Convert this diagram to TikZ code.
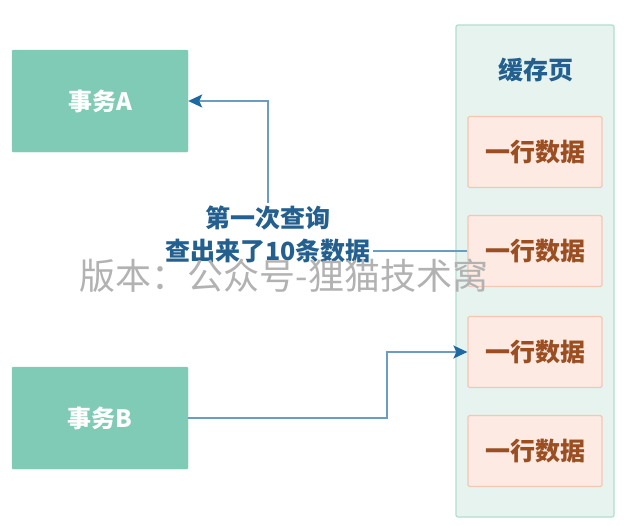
\documentclass[tikz,border=0pt]{standalone}
\usepackage{fontspec}
\setmainfont{Noto Sans CJK SC}
\usepackage{tikz}
\usetikzlibrary{arrows.meta, positioning}
\definecolor{txgreen}{HTML}{80CBB5}
\definecolor{pagefill}{HTML}{E7F3EF}
\definecolor{pageline}{HTML}{B3DECF}
\definecolor{rowfill}{HTML}{FCEAE3}
\definecolor{rowline}{HTML}{F4C7B4}
\definecolor{rowtext}{HTML}{9A4E22}
\definecolor{linkblue}{HTML}{6B9DC2}
\definecolor{headblue}{HTML}{1F69A3}
\definecolor{labelblue}{HTML}{23608F}
\tikzset{
  txbox/.style={draw=txgreen!90, fill=txgreen, rounded corners=1pt, minimum width=176pt, minimum height=102pt, text=white, font=\fontsize{24}{28}\selectfont\bfseries},
  rowbox/.style={draw=rowline, line width=1.2pt, fill=rowfill, rounded corners=1.5pt, minimum width=134pt, minimum height=71pt, text=rowtext, font=\fontsize{25}{28}\selectfont\bfseries},
  link/.style={draw=linkblue, line width=1.8pt, -{Stealth[length=14pt, width=13pt, inset=3pt, color=headblue]}},
}
\begin{document}
\begin{tikzpicture}[x=1pt, y=-1pt]
	\useasboundingbox[fill=white] (0, 0) rectangle (637, 525);
	% cache page
	\draw[pageline, fill=pagefill, line width=1.2pt, rounded corners=2pt] (456, 25) rectangle (614, 517);
	\node[text=labelblue, font=\fontsize{25}{28}\selectfont\bfseries] (title) at (536, 70) {缓存页};
	\node[rowbox] (r1) at (535, 152) {一行数据};
	\node[rowbox] (r2) at (535, 251) {一行数据};
	\node[rowbox] (r3) at (535, 352) {一行数据};
	\node[rowbox] (r4) at (535, 451) {一行数据};
	% transactions
	\node[txbox] (txa) at (100, 101) {事务A};
	\node[txbox] (txb) at (100, 418) {事务B};
	% connectors
	\coordinate (bend) at (268, 251);
	\draw[link] (r2.west) -- (bend) |- (txa.east);
	\node[fill=white, inner sep=2pt, align=center, text=labelblue, font=\fontsize{25}{33}\selectfont\bfseries] (query) at (268, 234) {第一次查询\\查出来了10条数据};
	\coordinate (up) at (387, 418);
	\draw[link] (txb.east) -- (up) |- (r3.west);
	% watermark
	\node[text=black!30, font=\fontsize{36}{40}\selectfont] (mark) at (284, 276) {版本：公众号-狸猫技术窝};
\end{tikzpicture}
\end{document}
